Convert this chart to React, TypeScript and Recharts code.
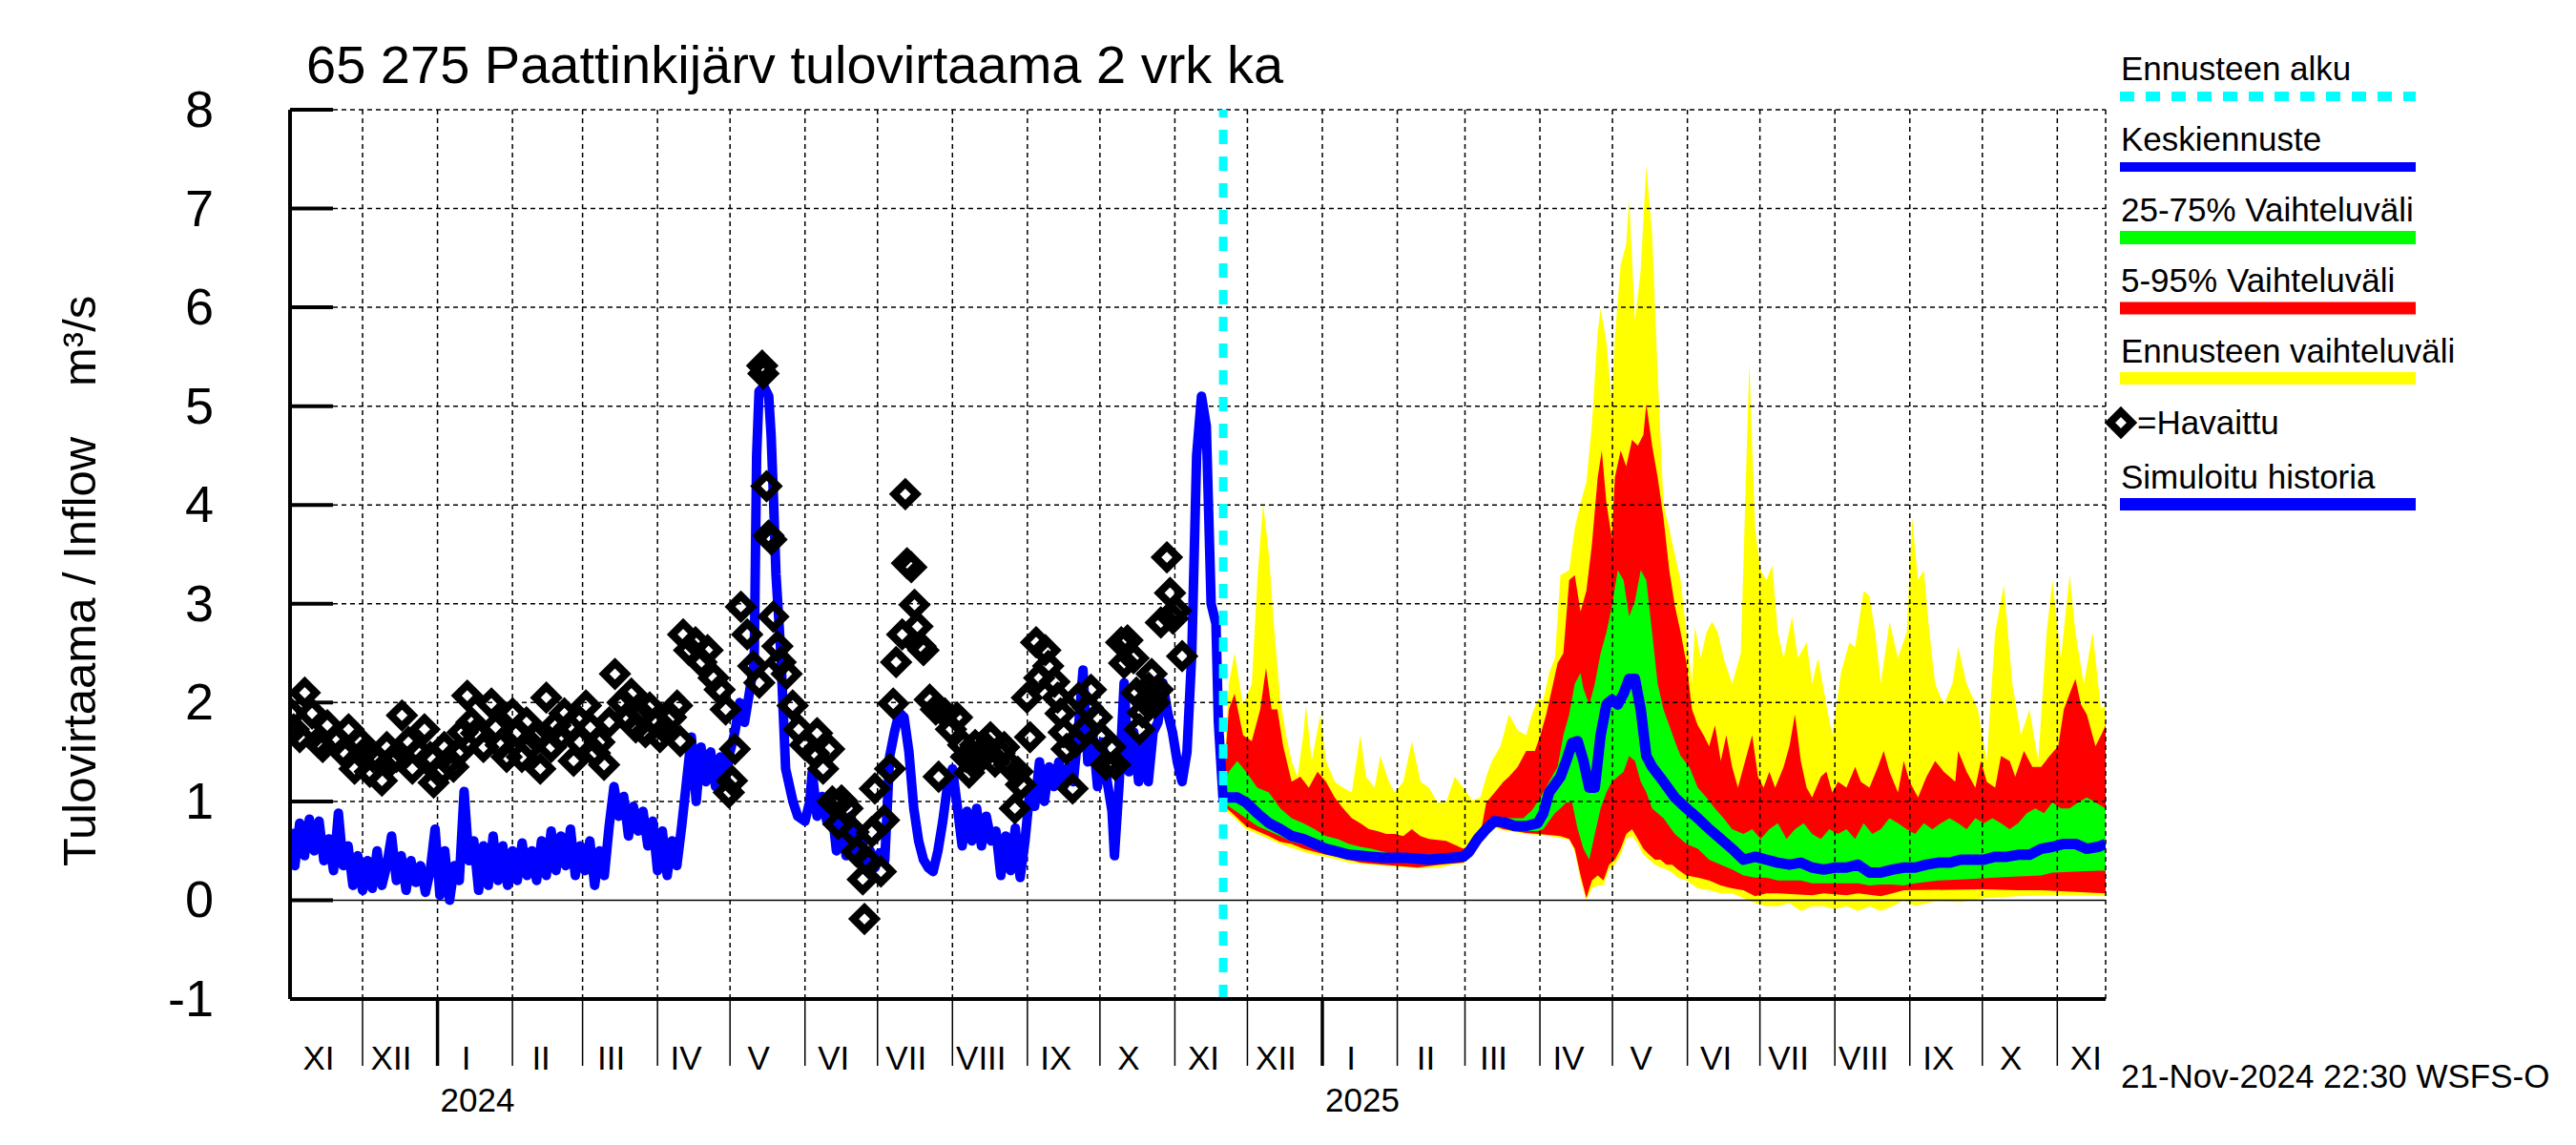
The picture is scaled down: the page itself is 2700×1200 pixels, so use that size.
import React from 'react';
import { ComposedChart, XAxis, YAxis, Area, Line, Scatter, ReferenceLine } from 'recharts';

const FONT = '"Liberation Sans", Arial, Helvetica, sans-serif';

// x = days from 1 Jan 2024
const monthTicks = [-61, -31, 0, 31, 60, 91, 121, 152, 182, 213, 244, 274, 305, 335, 366, 397, 425, 456, 486, 517, 547, 578, 609, 639, 670];
const monthLabels = ['XI', 'XII', 'I', 'II', 'III', 'IV', 'V', 'VI', 'VII', 'VIII', 'IX', 'X', 'XI', 'XII', 'I', 'II', 'III', 'IV', 'V', 'VI', 'VII', 'VIII', 'IX', 'X', 'XI'];
const yearLabels: Record<number, string> = { 0: '2024', 366: '2025' };
const yTicks = [-1, 0, 1, 2, 3, 4, 5, 6, 7, 8];
const gridY = [1, 2, 3, 4, 5, 6, 7, 8];
const gridX = [-31, 0, 31, 60, 91, 121, 152, 182, 213, 244, 274, 305, 335, 366, 397, 425, 456, 486, 517, 547, 578, 609, 639, 670, 690];
const forecastStart = 325;

const simulatedHistory: [number, number][] = [
  [-61, 0.72], [-59, 0.35], [-57, 0.78], [-55, 0.45], [-53, 0.82], [-51, 0.5], [-49, 0.8], [-47, 0.4], [-45, 0.62], [-43, 0.3], [-41, 0.88], [-39, 0.35],
  [-37, 0.55], [-35, 0.15], [-33, 0.45], [-31, 0.1], [-29, 0.4], [-27, 0.12], [-25, 0.5], [-23, 0.15], [-21, 0.35], [-19, 0.65], [-17, 0.2], [-15, 0.45], [-13, 0.1], [-11, 0.4], [-9, 0.18], [-7, 0.35], [-5, 0.08], [-3, 0.3],
  [-1, 0.72], [1, 0.05], [3, 0.5], [5, 0.0], [7, 0.35], [9, 0.2], [11, 1.1],
  [13, 0.4], [15, 0.6], [17, 0.1], [19, 0.55], [21, 0.15], [23, 0.65], [25, 0.2], [27, 0.55], [29, 0.15], [31, 0.5], [33, 0.2], [35, 0.58], [37, 0.25], [39, 0.5], [41, 0.2],
  [43, 0.6], [45, 0.25], [47, 0.7], [49, 0.3], [51, 0.65], [53, 0.35], [55, 0.72], [57, 0.25], [59, 0.55], [61, 0.3], [63, 0.6], [65, 0.15], [67, 0.5], [69, 0.25], [71, 0.75],
  [73, 1.15], [75, 0.85], [77, 1.05], [79, 0.65], [81, 0.95], [83, 0.7], [85, 0.9], [87, 0.55], [89, 0.8],
  [91, 0.3], [93, 0.7], [95, 0.25], [97, 0.6], [99, 0.35], [101, 0.75],
  [103, 1.2], [105, 1.65], [107, 1.0], [109, 1.55], [111, 1.2],
  [113, 1.5], [115, 1.15], [117, 1.45], [119, 1.2], [121, 1.5],
  [123, 1.7], [125, 2.0], [127, 1.8], [129, 2.1], [131, 2.4], [132, 4.5], [133, 5.15], [135, 5.2], [137, 5.1], [138, 4.7], [139, 4.05], [140, 3.3], [142, 2.5], [143, 1.9], [144, 1.33], [147, 1.0], [149, 0.85], [152, 0.8], [154, 1.0], [155, 1.3], [157, 0.85], [159, 1.05], [161, 0.8],
  [163, 0.95], [165, 0.5], [167, 0.9], [169, 0.45], [171, 0.85], [173, 0.5], [175, 0.7],
  [177, 0.35], [179, 0.5], [181, 0.33], [183, 0.48], [185, 0.4],
  [187, 1.45], [189, 1.7], [191, 1.9], [193, 1.85], [195, 1.5], [197, 0.93], [199, 0.6], [201, 0.41], [203, 0.33], [205, 0.29], [207, 0.5], [209, 0.8], [211, 1.17], [213, 1.33], [215, 0.95],
  [217, 0.55], [219, 0.9], [221, 0.6], [223, 0.93], [225, 0.55], [227, 0.85], [229, 0.6],
  [231, 0.7], [233, 0.25], [235, 0.65], [237, 0.3], [239, 0.73], [241, 0.23], [243, 0.6],
  [245, 1.1], [247, 0.95], [249, 1.4], [251, 1.0], [253, 1.35], [255, 1.15], [257, 1.4], [259, 1.15], [261, 1.35], [263, 1.2],
  [265, 1.7], [267, 2.33], [269, 1.4], [271, 1.7], [273, 1.15], [275, 1.6], [277, 1.2], [279, 0.9], [280, 0.45], [282, 1.2], [284, 2.2], [286, 1.3], [288, 1.7], [290, 1.2], [292, 1.65], [294, 1.2], [296, 1.7], [298, 1.8], [300, 2.2], [302, 1.9], [304, 1.7], [306, 1.4], [308, 1.2], [310, 1.5], [312, 2.5], [314, 4.5], [316, 5.1], [318, 4.8], [320, 3.0], [322, 2.8], [323, 1.8], [325, 1.0],
];

const observed: [number, number][] = [
  [-60.5, 1.89], [-59.5, 1.73], [-57, 1.65], [-54.9, 2.1], [-51.9, 1.89], [-49.4, 1.6], [-47.5, 1.55], [-45.6, 1.77], [-41.9, 1.61], [-39, 1.5], [-36.8, 1.73], [-34.3, 1.33], [-32, 1.6], [-30.5, 1.49], [-28, 1.3], [-26.7, 1.45], [-23.0, 1.21], [-21, 1.55], [-19.2, 1.41], [-17, 1.45], [-14.7, 1.87], [-12, 1.6], [-10.4, 1.33], [-8, 1.5], [-5.4, 1.73], [-3, 1.45], [-1.6, 1.19],
  [0.9, 1.29], [2.8, 1.55], [4.7, 1.41], [6.6, 1.35], [8.5, 1.49], [10.4, 1.7], [12.3, 2.07], [14, 1.8], [16.0, 1.69], [19, 1.55], [22.3, 1.99], [24, 1.75], [26.1, 1.57], [28.6, 1.45], [31.1, 1.89], [33, 1.7], [34.9, 1.45], [36.8, 1.8], [38.7, 1.57], [40.6, 1.65], [42.5, 1.33], [45.0, 2.05], [47, 1.55], [48.8, 1.77], [50.6, 1.65], [52.5, 1.89], [54.4, 1.75], [56.3, 1.41], [58.8, 1.6], [61.4, 1.97], [63.2, 1.75], [65.1, 1.49], [67, 1.6], [68.9, 1.37], [71, 1.8], [73.4, 2.29], [76.5, 2.0], [78.3, 1.85], [80.2, 2.09], [82, 1.75], [84.0, 1.89], [86, 1.7], [87.8, 1.95], [90, 1.8], [92, 1.65], [94.1, 1.73], [96.6, 1.85], [99.1, 1.97],
  [100.4, 1.61], [101.6, 2.69], [104.1, 2.53], [106.7, 2.61], [109.2, 2.41], [111.7, 2.53], [114.2, 2.25], [116.7, 2.13], [119.2, 1.93], [120.5, 1.09], [121.8, 1.21], [123.0, 1.53], [125.5, 2.97], [128.1, 2.69], [130.6, 2.37], [133.1, 2.2], [134.3, 5.41], [134.8, 5.33], [136.1, 4.19], [136.9, 3.69], [138.1, 3.65], [138.9, 2.87], [140.6, 2.57], [141.9, 2.41], [144.4, 2.29], [146.9, 1.97], [149.4, 1.73], [152.0, 1.57], [155.7, 1.49], [157.0, 1.69], [159.5, 1.33], [162.0, 1.53], [163.3, 1.0], [165.8, 0.77], [167.1, 1.01], [169.6, 0.93], [172.1, 0.69], [173.4, 0.49], [175.9, 0.21], [176.6, -0.19], [177.1, 0.41], [179.6, 0.69], [180.9, 1.13], [183.4, 0.29], [184.7, 0.81], [187.2, 1.33], [188.5, 1.99], [189.7, 2.41], [192.2, 2.69], [193.5, 4.11], [194.2, 3.41], [196.0, 3.37], [197.3, 2.99], [198.5, 2.77], [199.8, 2.57], [201.0, 2.53], [203.6, 2.03], [206.1, 1.93], [207.3, 1.25], [209.9, 1.89], [212.4, 1.73], [214.9, 1.85], [217.4, 1.57], [218.6, 1.45], [219.9, 1.29], [221, 1.4], [222.4, 1.57], [225.0, 1.45], [226.9, 1.55], [228.7, 1.65], [230.6, 1.4], [232.5, 1.49], [234.4, 1.55], [236.3, 1.37], [238.8, 0.93], [240, 1.3], [241.3, 1.17], [243.8, 2.05], [245.1, 1.65], [247.6, 2.61], [248.9, 2.25], [251.4, 2.53], [252.6, 2.37], [255.2, 2.21], [256.5, 2.05], [257.7, 1.89], [259, 1.7], [260.2, 1.53], [262.7, 1.13], [264, 1.6], [265.2, 2.05], [267.7, 1.73], [269, 1.95], [270.3, 2.13], [272.8, 1.85], [274.6, 1.65], [276.5, 1.37], [278.4, 1.55], [280.3, 1.37], [282.8, 2.61], [284, 2.4], [285.4, 2.63], [287.9, 2.45], [289.1, 2.1], [290.4, 1.73], [291.6, 1.9], [292.9, 2.01], [294.2, 2.15], [295.4, 2.29], [296.7, 2.0], [298.0, 2.13], [299.2, 2.81], [301.7, 3.47], [303.0, 3.11], [304.2, 2.85], [305.5, 2.93], [308.0, 2.47],
];

const forecastMax: [number, number][] = [
  [325, 1.14], [327.3, 2.19], [329.7, 2.5], [333.2, 1.98], [336.8, 2.19], [339.1, 3.24], [341.5, 4.02], [343.9, 3.5], [346.2, 2.71], [348.6, 2.03], [351.0, 1.67], [353.3, 1.41], [355.7, 1.25], [358.1, 1.67], [359.2, 1.98], [361.6, 1.41], [365.2, 1.88], [367.5, 1.41], [371.1, 1.2], [374.6, 1.14], [378.2, 1.09], [381.7, 1.67], [384.1, 1.25], [387.6, 1.14], [390.0, 1.46], [393.5, 1.2], [395.9, 1.09], [399.5, 1.2], [403.0, 1.61], [406.6, 1.2], [410.1, 1.14], [413.7, 0.99], [417.2, 0.99], [420.8, 1.25], [424.3, 1.14], [427.9, 1.01], [431.4, 1.04], [433.8, 1.25], [436.1, 1.41], [439.7, 1.56], [443.2, 1.88], [446.8, 1.72], [450.3, 1.67], [452.7, 1.88], [455.1, 2.03], [457.4, 2.03], [459.8, 2.3], [462.2, 2.45], [464.5, 3.29], [468.1, 3.34], [470.4, 3.76], [472.8, 4.02], [475.2, 4.23], [477.5, 4.81], [479.9, 5.75], [481.1, 5.99], [483.5, 5.65], [485.8, 5.02], [487.0, 5.7], [489.4, 6.43], [491.7, 6.64], [492.9, 7.11], [495.3, 5.86], [497.7, 6.38], [500.0, 7.43], [502.4, 6.75], [504.7, 5.33], [507.1, 4.02], [509.5, 3.76], [511.8, 3.5], [514.2, 3.24], [516.6, 2.71], [518.9, 2.19], [520.1, 2.77], [522.5, 2.45], [524.9, 2.71], [527.2, 2.82], [529.6, 2.71], [532.0, 2.45], [535.5, 2.19], [539.1, 2.5], [542.6, 5.44], [545.0, 3.76], [547.3, 3.34], [549.7, 3.24], [552.1, 3.39], [554.4, 2.71], [556.8, 2.45], [560.3, 2.87], [562.7, 2.45], [566.3, 2.61], [568.6, 2.19], [571.0, 2.45], [574.5, 1.98], [576.9, 1.67], [580.5, 2.3], [584.0, 2.61], [586.4, 2.56], [589.9, 3.13], [592.3, 3.08], [594.7, 2.71], [597.0, 2.19], [600.6, 2.82], [604.1, 2.45], [607.7, 2.71], [610.0, 3.87], [612.4, 3.24], [614.8, 3.34], [617.1, 2.71], [619.5, 2.19], [623.0, 1.98], [626.6, 2.19], [629.0, 2.56], [632.5, 2.19], [637.2, 1.93], [640.8, 1.41], [644.3, 2.71], [647.9, 3.19], [651.4, 2.19], [655.0, 1.67], [658.5, 1.93], [662.1, 1.41], [665.6, 2.71], [668.0, 3.24], [671.5, 2.45], [675.1, 3.29], [677.5, 2.71], [681.0, 2.19], [684.6, 2.71], [688.1, 1.93], [690, 1.98],
];

const forecast95: [number, number][] = [
  [325, 1.14], [327.3, 1.93], [329.7, 2.09], [333.2, 1.67], [336.8, 1.61], [340.3, 1.93], [342.7, 2.35], [345.0, 1.93], [347.4, 1.93], [349.8, 1.56], [353.3, 1.2], [356.9, 1.25], [360.4, 1.14], [364.0, 1.3], [367.5, 1.2], [371.1, 1.04], [374.6, 0.93], [378.2, 0.83], [381.7, 0.78], [385.3, 0.72], [388.8, 0.7], [392.4, 0.67], [395.9, 0.67], [399.5, 0.65], [403.0, 0.72], [406.6, 0.65], [410.1, 0.62], [417.2, 0.6], [424.3, 0.52], [427.9, 0.57], [431.4, 0.67], [433.8, 0.99], [437.3, 1.09], [440.9, 1.2], [443.2, 1.25], [446.8, 1.35], [450.3, 1.51], [453.9, 1.51], [456.2, 1.67], [458.6, 1.88], [461.0, 2.14], [463.3, 2.4], [465.7, 2.5], [468.1, 3.24], [470.4, 3.29], [472.8, 2.92], [475.2, 3.13], [477.5, 3.6], [479.9, 4.28], [481.6, 4.55], [483.5, 4.02], [485.8, 3.66], [487.0, 4.28], [489.4, 4.55], [491.7, 4.39], [494.1, 4.66], [496.5, 4.6], [498.8, 4.71], [500.0, 5.02], [502.4, 4.6], [504.7, 4.28], [507.1, 3.87], [509.5, 3.34], [511.8, 2.98], [514.2, 2.71], [516.6, 2.4], [518.9, 1.93], [521.3, 1.77], [523.7, 1.67], [526.0, 1.56], [528.4, 1.77], [530.8, 1.41], [533.1, 1.67], [535.5, 1.35], [537.9, 1.14], [540.2, 1.35], [543.8, 1.67], [546.2, 1.25], [548.5, 1.14], [550.9, 1.3], [553.3, 1.14], [556.8, 1.35], [559.2, 1.56], [561.5, 1.88], [563.9, 1.41], [566.3, 1.14], [568.6, 1.04], [572.2, 1.25], [574.5, 1.3], [576.9, 1.09], [579.3, 1.2], [582.8, 1.14], [586.4, 1.35], [588.7, 1.2], [592.3, 1.14], [595.8, 1.35], [598.2, 1.51], [600.6, 1.3], [604.1, 1.09], [606.5, 1.41], [608.9, 1.2], [612.4, 1.04], [615.9, 1.25], [619.5, 1.41], [623.0, 1.3], [627.8, 1.2], [629.0, 1.51], [632.5, 1.3], [636.1, 1.14], [638.4, 1.41], [640.8, 1.2], [644.3, 1.14], [646.7, 1.46], [650.3, 1.41], [652.6, 1.25], [656.2, 1.51], [659.7, 1.35], [663.3, 1.35], [666.8, 1.46], [670.4, 1.56], [672.7, 1.93], [675.1, 2.09], [677.5, 2.24], [679.8, 1.98], [682.2, 1.88], [685.8, 1.56], [688.1, 1.67], [690, 1.77],
];

const forecast75: [number, number][] = [
  [325, 1.14], [327.3, 1.3], [330.8, 1.41], [334.4, 1.3], [339.1, 1.14], [343.9, 1.09], [348.6, 0.93], [353.3, 0.83], [358.1, 0.78], [362.8, 0.72], [367.5, 0.65], [372.3, 0.62], [377.0, 0.57], [381.7, 0.54], [386.4, 0.52], [391.2, 0.49], [395.9, 0.46], [405.4, 0.46], [414.8, 0.46], [424.3, 0.49], [427.9, 0.57], [431.4, 0.7], [433.8, 0.78], [436.1, 0.83], [449.1, 0.83], [452.7, 0.91], [456.2, 1.04], [459.8, 1.2], [463.3, 1.35], [465.7, 1.67], [468.1, 1.88], [470.4, 2.19], [472.8, 2.3], [474.0, 2.14], [476.4, 1.98], [478.7, 2.19], [481.1, 2.5], [483.5, 2.71], [485.8, 2.98], [488.2, 3.34], [490.6, 3.24], [492.9, 2.87], [495.3, 3.03], [497.7, 3.34], [500.0, 3.24], [502.4, 2.71], [504.7, 2.19], [507.1, 1.93], [509.5, 1.77], [511.8, 1.61], [514.2, 1.46], [517.8, 1.35], [521.3, 1.14], [524.9, 1.04], [528.4, 0.93], [532.0, 0.83], [535.5, 0.72], [540.2, 0.67], [543.8, 0.72], [547.3, 0.62], [550.9, 0.72], [554.4, 0.78], [558.0, 0.62], [561.5, 0.72], [565.1, 0.78], [568.6, 0.67], [572.2, 0.62], [575.7, 0.72], [579.3, 0.67], [582.8, 0.72], [586.4, 0.62], [589.9, 0.78], [593.5, 0.67], [597.0, 0.72], [600.6, 0.83], [604.1, 0.78], [607.7, 0.72], [611.2, 0.67], [614.8, 0.78], [618.3, 0.72], [621.9, 0.78], [625.4, 0.83], [629.0, 0.78], [632.5, 0.72], [636.1, 0.83], [639.6, 0.78], [643.2, 0.83], [646.7, 0.78], [650.3, 0.72], [653.8, 0.78], [657.4, 0.88], [660.9, 0.93], [664.5, 0.88], [668.0, 0.99], [671.5, 0.93], [675.1, 0.93], [678.6, 0.99], [682.2, 1.04], [685.8, 0.99], [690, 0.93],
];

const forecastMedian: [number, number][] = [
  [325, 1.04], [327.3, 1.04], [330.8, 1.04], [334.4, 0.99], [339.1, 0.88], [343.9, 0.78], [348.6, 0.72], [353.3, 0.65], [358.1, 0.62], [362.8, 0.57], [367.5, 0.52], [372.3, 0.49], [377.0, 0.46], [381.7, 0.45], [386.4, 0.44], [391.2, 0.43], [400.6, 0.43], [410.1, 0.41], [419.6, 0.43], [424.3, 0.44], [426.7, 0.49], [430.2, 0.62], [433.8, 0.72], [437.3, 0.8], [440.9, 0.79], [445.6, 0.75], [450.3, 0.75], [455.1, 0.78], [457.4, 0.88], [459.8, 1.09], [462.2, 1.17], [464.5, 1.25], [466.9, 1.41], [469.3, 1.59], [471.6, 1.61], [474.0, 1.41], [476.4, 1.14], [478.7, 1.14], [481.1, 1.67], [483.5, 1.98], [485.8, 2.03], [488.2, 1.98], [490.6, 2.09], [492.9, 2.24], [495.3, 2.24], [497.7, 1.93], [500.0, 1.46], [502.4, 1.35], [507.1, 1.2], [511.8, 1.04], [516.6, 0.93], [521.3, 0.83], [526.0, 0.72], [530.8, 0.62], [535.5, 0.52], [540.2, 0.41], [545.0, 0.44], [549.7, 0.41], [554.4, 0.38], [559.2, 0.36], [563.9, 0.38], [568.6, 0.33], [573.4, 0.31], [578.1, 0.33], [582.8, 0.33], [587.6, 0.36], [592.3, 0.28], [597.0, 0.28], [601.8, 0.31], [606.5, 0.33], [611.2, 0.33], [615.9, 0.36], [620.7, 0.38], [625.4, 0.38], [630.1, 0.41], [639.6, 0.41], [644.3, 0.44], [649.1, 0.44], [653.8, 0.46], [658.5, 0.46], [663.3, 0.52], [668.0, 0.54], [672.7, 0.57], [677.5, 0.57], [682.2, 0.52], [686.9, 0.54], [690, 0.57],
];

const forecast25: [number, number][] = [
  [325, 0.99], [329.7, 0.91], [334.4, 0.83], [339.1, 0.75], [343.9, 0.7], [348.6, 0.65], [353.3, 0.59], [358.1, 0.57], [362.8, 0.52], [367.5, 0.49], [372.3, 0.46], [377.0, 0.44], [381.7, 0.41], [391.2, 0.38], [405.4, 0.38], [410.1, 0.37], [419.6, 0.41], [424.3, 0.41], [426.7, 0.46], [430.2, 0.57], [433.8, 0.7], [437.3, 0.78], [440.9, 0.75], [445.6, 0.72], [450.3, 0.7], [455.1, 0.7], [457.4, 0.72], [459.8, 0.8], [462.2, 0.88], [464.5, 0.93], [466.9, 0.99], [469.3, 0.99], [471.6, 0.72], [474.0, 0.52], [476.4, 0.41], [478.7, 0.67], [481.1, 0.93], [483.5, 1.09], [485.8, 1.2], [488.2, 1.25], [490.6, 1.3], [492.9, 1.46], [495.3, 1.41], [497.7, 1.2], [500.0, 1.09], [502.4, 0.93], [507.1, 0.83], [511.8, 0.67], [516.6, 0.57], [521.3, 0.52], [526.0, 0.41], [530.8, 0.36], [535.5, 0.31], [540.2, 0.25], [545.0, 0.23], [549.7, 0.23], [554.4, 0.2], [563.9, 0.2], [568.6, 0.17], [587.6, 0.17], [592.3, 0.15], [597.0, 0.16], [601.8, 0.16], [606.5, 0.15], [611.2, 0.17], [620.7, 0.2], [630.1, 0.21], [644.3, 0.23], [653.8, 0.24], [663.3, 0.25], [668.0, 0.28], [686.9, 0.3], [690, 0.3],
];

const forecast5: [number, number][] = [
  [325, 0.96], [329.7, 0.86], [334.4, 0.75], [339.1, 0.7], [343.9, 0.65], [348.6, 0.59], [353.3, 0.57], [358.1, 0.52], [362.8, 0.49], [367.5, 0.46], [372.3, 0.44], [377.0, 0.41], [381.7, 0.38], [386.4, 0.37], [391.2, 0.36], [400.6, 0.34], [405.4, 0.33], [414.8, 0.36], [424.3, 0.38], [426.7, 0.44], [430.2, 0.57], [433.8, 0.67], [437.3, 0.75], [440.9, 0.72], [445.6, 0.7], [450.3, 0.68], [455.1, 0.67], [459.8, 0.66], [464.5, 0.65], [468.1, 0.62], [470.4, 0.52], [472.8, 0.25], [475.2, 0.02], [477.5, 0.2], [479.9, 0.25], [482.3, 0.2], [484.6, 0.36], [487.0, 0.41], [489.4, 0.52], [491.7, 0.67], [494.1, 0.72], [496.5, 0.62], [498.8, 0.52], [501.2, 0.46], [503.6, 0.41], [505.9, 0.41], [508.3, 0.36], [510.7, 0.36], [513.0, 0.31], [516.6, 0.25], [521.3, 0.23], [526.0, 0.2], [530.8, 0.15], [535.5, 0.12], [540.2, 0.1], [545.0, 0.04], [549.7, 0.07], [554.4, 0.07], [568.6, 0.05], [573.4, 0.07], [582.8, 0.05], [587.6, 0.07], [597.0, 0.04], [601.8, 0.07], [606.5, 0.1], [639.6, 0.11], [653.8, 0.1], [663.3, 0.1], [690, 0.07],
];

const forecastMin: [number, number][] = [
  [325, 0.93], [329.7, 0.83], [334.4, 0.72], [339.1, 0.67], [343.9, 0.62], [348.6, 0.57], [353.3, 0.53], [358.1, 0.49], [362.8, 0.46], [367.5, 0.44], [372.3, 0.41], [377.0, 0.38], [381.7, 0.37], [386.4, 0.36], [391.2, 0.35], [400.6, 0.33], [405.4, 0.32], [414.8, 0.33], [419.6, 0.36], [424.3, 0.37], [426.7, 0.42], [430.2, 0.56], [433.8, 0.66], [437.3, 0.73], [440.9, 0.71], [445.6, 0.69], [450.3, 0.67], [455.1, 0.66], [459.8, 0.65], [464.5, 0.63], [468.1, 0.61], [470.4, 0.49], [472.8, 0.2], [475.2, 0.0], [477.5, 0.12], [479.9, 0.15], [482.3, 0.15], [484.6, 0.31], [487.0, 0.36], [489.4, 0.46], [491.7, 0.62], [494.1, 0.65], [496.5, 0.57], [498.8, 0.46], [501.2, 0.41], [503.6, 0.36], [505.9, 0.33], [508.3, 0.31], [510.7, 0.28], [513.0, 0.23], [516.6, 0.2], [521.3, 0.12], [526.0, 0.1], [530.8, 0.07], [535.5, 0.07], [540.2, 0.02], [545.0, -0.03], [549.7, -0.06], [554.4, -0.06], [559.2, -0.03], [563.9, -0.11], [568.6, -0.06], [573.4, -0.06], [578.1, -0.09], [582.8, -0.06], [587.6, -0.11], [592.3, -0.06], [597.0, -0.11], [601.8, -0.06], [606.5, 0.0], [611.2, -0.06], [615.9, -0.03], [620.7, -0.01], [630.1, -0.02], [639.6, 0.02], [653.8, 0.04], [668.0, 0.05], [690, 0.04],
];

const toPts = (arr: [number, number][]) => arr.map(([d, v]) => ({ d, v }));

const YELLOW = '#ffff00';
const RED = '#ff0000';
const GREEN = '#00ff00';
const BLUE = '#0000ff';
const CYAN = '#00ffff';

const MonthTick = (props: any) => {
  const { x, y, index, payload } = props;
  const isYear = yearLabels[payload.value] !== undefined;
  return (
    <g>
      {index > 0 && (
        <line x1={x} x2={x} y1={y} y2={y + 70} stroke="#000" strokeWidth={isYear ? 3.5 : 1.5} />
      )}
      <text x={x + 30} y={y + 74} textAnchor="middle" fontSize={35} fontFamily={FONT} fill="#000">
        {monthLabels[index]}
      </text>
      {isYear && (
        <text x={x + 3} y={y + 118} textAnchor="start" fontSize={35} fontFamily={FONT} fill="#000">
          {yearLabels[payload.value]}
        </text>
      )}
    </g>
  );
};

const ValueTick = (props: any) => {
  const { x, y, payload } = props;
  return (
    <g>
      <line x1={x} x2={x + 45} y1={y} y2={y} stroke="#000" strokeWidth={4} />
      <text x={x - 80} y={y + 18} textAnchor="end" fontSize={54} fontFamily={FONT} fill="#000">
        {payload.value}
      </text>
    </g>
  );
};

const DIAMOND_HALF = 11.5;
const DIAMOND_STROKE = 8;

const Diamond = (props: any) => {
  const { cx, cy } = props;
  if (cx == null || cy == null) return null;
  const h = DIAMOND_HALF;
  return (
    <polygon
      points={`${cx},${cy - h} ${cx + h},${cy} ${cx},${cy + h} ${cx - h},${cy}`}
      fill="none"
      stroke="#000"
      strokeWidth={DIAMOND_STROKE}
    />
  );
};

const bandLayers: { data: [number, number][]; color: string; key: string }[] = [
  { data: forecastMax, color: YELLOW, key: 'max' },
  { data: forecast95, color: RED, key: 'p95' },
  { data: forecast75, color: GREEN, key: 'p75' },
  { data: forecast25, color: RED, key: 'p25' },
  { data: forecast5, color: YELLOW, key: 'p5' },
  { data: forecastMin, color: '#ffffff', key: 'min' },
];

const legendLines = [
  { label: 'Ennusteen alku', color: CYAN, ty: 84, ly: 101, w: 10, dash: '15 12' },
  { label: 'Keskiennuste', color: BLUE, ty: 158, ly: 175, w: 10 },
  { label: '25-75% Vaihteluväli', color: GREEN, ty: 232, ly: 249, w: 14 },
  { label: '5-95% Vaihteluväli', color: RED, ty: 306, ly: 323, w: 13 },
  { label: 'Ennusteen vaihteluväli', color: YELLOW, ty: 380, ly: 396.5, w: 13 },
  { label: 'Simuloitu historia', color: BLUE, ty: 512, ly: 528.5, w: 13 },
];

export default function App() {
  const lh = DIAMOND_HALF;
  return (
    <div style={{ position: 'relative', width: 2700, height: 1200, background: '#fff', fontFamily: FONT }}>
      <style>{`body{margin:0;background:#fff}`}</style>
      <ComposedChart width={2700} height={1200} margin={{ top: 115, right: 493, bottom: 0, left: 0 }}>
        <XAxis
          type="number"
          dataKey="d"
          domain={[-61, 690]}
          ticks={monthTicks}
          interval={0}
          allowDataOverflow
          height={153}
          axisLine={{ stroke: '#000', strokeWidth: 4 }}
          tickLine={false}
          tickSize={0}
          tickMargin={0}
          tick={(p: any) => <MonthTick {...p} />}
        />
        <YAxis
          type="number"
          dataKey="v"
          domain={[-1, 8]}
          ticks={yTicks}
          interval={0}
          allowDataOverflow
          width={304}
          axisLine={{ stroke: '#000', strokeWidth: 4 }}
          tickLine={false}
          tickSize={0}
          tickMargin={0}
          tick={(p: any) => <ValueTick {...p} />}
        />
        {bandLayers.map((b) => (
          <Area
            key={b.key}
            data={toPts(b.data)}
            dataKey="v"
            type="linear"
            baseValue={-1}
            fill={b.color}
            fillOpacity={1}
            stroke="none"
            dot={false}
            activeDot={false}
            isAnimationActive={false}
          />
        ))}
        {gridY.map((v) => (
          <ReferenceLine key={'gy' + v} y={v} stroke="#000" strokeWidth={1.5} strokeDasharray="5 4" />
        ))}
        <ReferenceLine y={0} stroke="#000" strokeWidth={1.5} />
        {gridX.map((d) => (
          <ReferenceLine key={'gx' + d} x={d} stroke="#000" strokeWidth={1.5} strokeDasharray="5 4" />
        ))}
        <Line
          data={toPts(forecastMedian)}
          dataKey="v"
          type="linear"
          stroke={BLUE}
          strokeWidth={11}
          strokeLinejoin="round"
          dot={false}
          activeDot={false}
          isAnimationActive={false}
        />
        <Line
          data={toPts(simulatedHistory)}
          dataKey="v"
          type="linear"
          stroke={BLUE}
          strokeWidth={10}
          strokeLinejoin="round"
          dot={false}
          activeDot={false}
          isAnimationActive={false}
        />
        <Scatter data={toPts(observed)} shape={(p: any) => <Diamond {...p} />} isAnimationActive={false} />
        <ReferenceLine x={forecastStart} stroke={CYAN} strokeWidth={9} strokeDasharray="15 13" />
      </ComposedChart>
      <svg
        width={2700}
        height={1200}
        style={{ position: 'absolute', left: 0, top: 0, pointerEvents: 'none' }}
        fontFamily={FONT}
      >
        <text x={321} y={87} fontSize={56} fill="#000">65 275 Paattinkijärv tulovirtaama 2 vrk ka</text>
        <text x={100} y={908} fontSize={49} fill="#000" transform="rotate(-90 100 908)">Tulovirtaama / Inflow</text>
        <text x={100} y={405} fontSize={49} fill="#000" transform="rotate(-90 100 405)">m³/s</text>
        {legendLines.map((l) => (
          <g key={l.label}>
            <text x={2223} y={l.ty} fontSize={35} fill="#000">{l.label}</text>
            <line x1={2222} x2={2532} y1={l.ly} y2={l.ly} stroke={l.color} strokeWidth={l.w} strokeDasharray={l.dash} />
          </g>
        ))}
        <polygon
          points={`2223,${443 - lh} ${2223 + lh},443 2223,${443 + lh} ${2223 - lh},443`}
          fill="none"
          stroke="#000"
          strokeWidth={DIAMOND_STROKE}
        />
        <text x={2240} y={455} fontSize={35} fill="#000">=Havaittu</text>
        <text x={2223} y={1140} fontSize={35} fill="#000">21-Nov-2024 22:30 WSFS-O</text>
      </svg>
    </div>
  );
}
